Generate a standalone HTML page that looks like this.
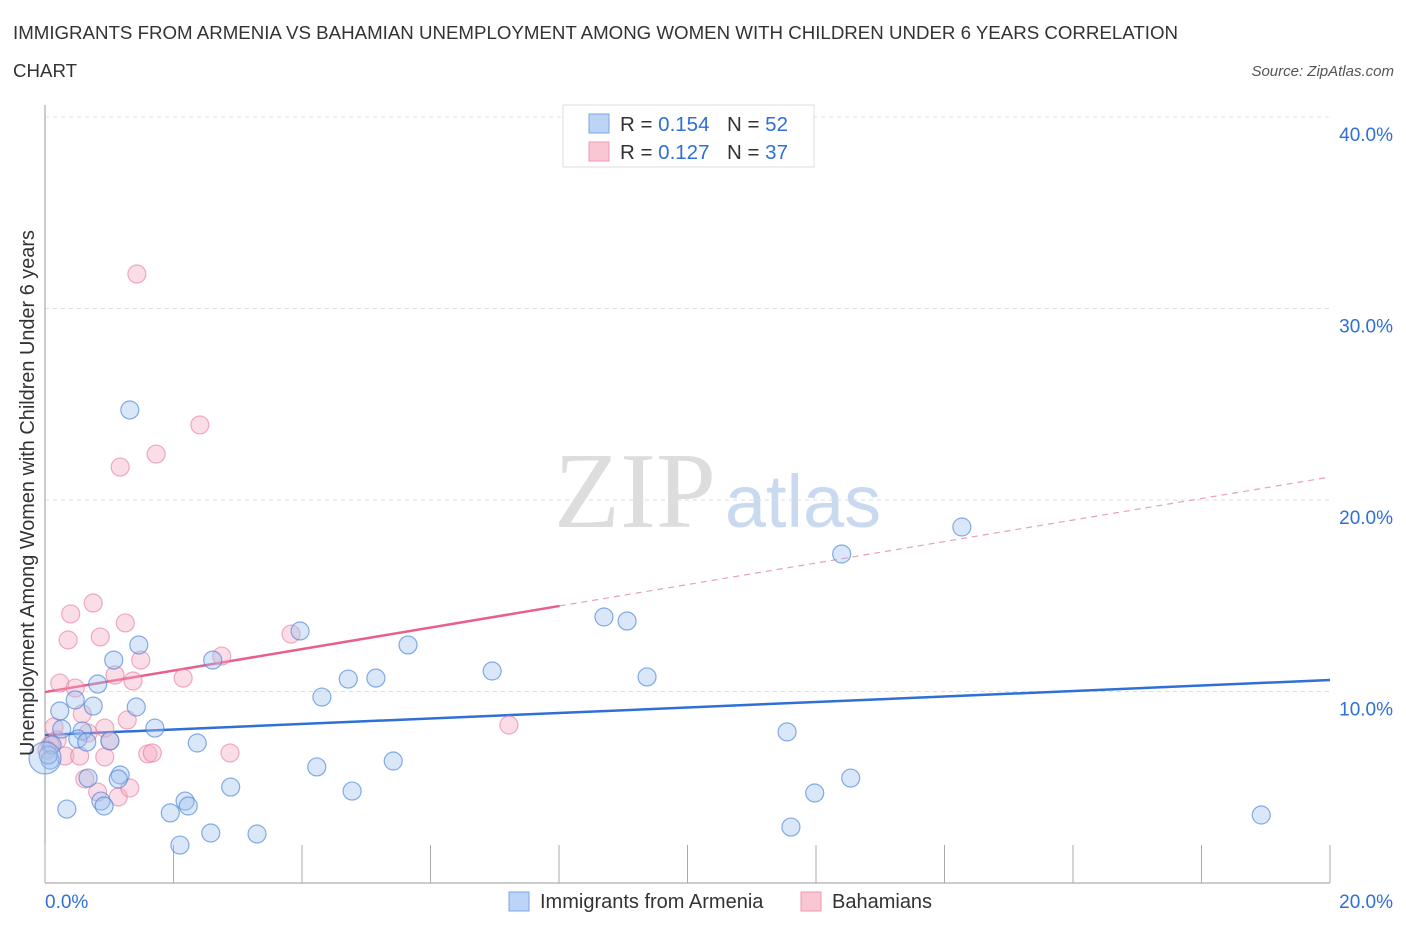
<!DOCTYPE html>
<html><head><meta charset="utf-8"><style>
body{margin:0;background:#fff;font-family:"Liberation Sans",sans-serif;}
</style></head><body>
<svg id="chart" width="1406" height="930" xmlns="http://www.w3.org/2000/svg" font-family="Liberation Sans, sans-serif">
<text x="13" y="39" font-size="18.7" fill="#333">IMMIGRANTS FROM ARMENIA VS BAHAMIAN UNEMPLOYMENT AMONG WOMEN WITH CHILDREN UNDER 6 YEARS CORRELATION</text>
<text x="13" y="77" font-size="18.7" fill="#333">CHART</text>
<text x="1394" y="76" font-size="15" fill="#555" font-style="italic" text-anchor="end">Source: ZipAtlas.com</text>
<g>
<text x="635" y="527" font-size="108" fill="#ddd" style="font-family:'Liberation Serif',serif" text-anchor="middle">ZIP</text>
<text x="803" y="527" font-size="74" fill="#c9daf0" text-anchor="middle">atlas</text>
</g>
<g id="grid"></g>
<g id="axes"></g>
<g id="lines"></g>
<g id="pts"></g>
<text transform="translate(34,493) rotate(-90)" font-size="19.9" fill="#333" text-anchor="middle">Unemployment Among Women with Children Under 6 years</text>
<g>
<rect x="563" y="105" width="251" height="62" fill="#fff" stroke="#ddd"/>
<rect x="589" y="114" width="20" height="19" fill="#bcd4f6" stroke="#7aa6e6"/>
<rect x="589" y="142" width="20" height="19" fill="#f9c6d4" stroke="#ee98b0"/>
<text x="620" y="131" font-size="20.5" fill="#333">R = <tspan fill="#2f6fd6">0.154</tspan><tspan x="727">N = </tspan><tspan fill="#2f6fd6">52</tspan></text>
<text x="620" y="159" font-size="20.5" fill="#333">R = <tspan fill="#2f6fd6"> 0.127</tspan><tspan x="727">N = </tspan><tspan fill="#2f6fd6">37</tspan></text>
</g>
<g>
<rect x="509" y="892" width="20" height="19" fill="#bcd4f6" stroke="#7aa6e6"/>
<text x="540" y="908" font-size="20" fill="#333">Immigrants from Armenia</text>
<rect x="801" y="892" width="20" height="19" fill="#f9c6d4" stroke="#ee98b0"/>
<text x="832" y="908" font-size="20" fill="#333">Bahamians</text>
</g>
</svg>
<script>
const blueX=[1.32,1.46,1.07,0.82,0.75,1.42,0.47,0.23,1.71,0.26,0.58,0.51,0.65,1.01,0.11,0.08,0.05,2.37,2.61,3.97,4.31,4.72,5.15,5.65,6.96,8.70,9.06,9.37,12.40,14.27,11.55,4.23,5.42,4.78,2.89,2.18,2.23,1.95,1.17,1.14,0.67,0.87,0.92,0.34,2.58,3.30,2.10,11.61,11.98,12.54,18.93,0.0];
const blueY=[24.70,12.43,11.64,10.39,9.24,9.19,9.56,8.98,8.09,8.04,7.94,7.52,7.36,7.42,7.21,6.42,6.68,7.31,11.64,13.16,9.71,10.65,10.70,12.43,11.07,13.89,13.68,10.76,17.18,18.59,7.89,6.06,6.37,4.80,5.01,4.28,4.02,3.66,5.64,5.43,5.48,4.28,4.02,3.86,2.61,2.56,1.98,2.92,4.70,5.48,3.55,6.53];
const pinkX=[1.43,2.41,1.73,1.17,0.75,0.40,1.25,0.36,0.86,1.49,2.75,2.15,3.83,0.23,0.47,1.09,1.37,0.58,1.28,0.14,0.93,0.67,1.01,0.19,0.08,0.31,0.93,0.54,1.60,1.67,2.88,7.22,0.62,0.82,1.14,1.32,0.03];
const pinkY=[31.80,23.92,22.40,21.72,14.62,14.05,13.58,12.69,12.85,11.64,11.85,10.70,13.00,10.44,10.18,10.86,10.55,8.83,8.51,8.15,8.09,7.83,7.42,7.47,7.21,6.63,6.58,6.63,6.74,6.79,6.79,8.25,5.43,4.75,4.49,4.96,6.95];
const blueTrend=[7.73,10.60];
const pinkTrend=[9.97,21.2];
const pinkSolidEnd=8.01;
const yTicks=[10,20,30,40];
const yTickLabels=["10.0%","20.0%","30.0%","40.0%"];
const xTicks=[0,2,4,6,8,10,12,14,16,18,20];
const NS="http://www.w3.org/2000/svg";
const sx=v=>45+v*64.25, sy=v=>883-v*19.15;
function mk(tag,attrs,parent){const e=document.createElementNS(NS,tag);for(const k in attrs)e.setAttribute(k,attrs[k]);document.getElementById(parent).appendChild(e);return e;}
yTicks.forEach((t,i)=>{
 const g=mk('line',{x1:45,x2:1330,y1:sy(t),y2:sy(t),stroke:'#ddd','stroke-dasharray':'4,4'},'grid');
 
 
 const l=mk('text',{x:1393,y:sy(t)+24,'font-size':19,fill:'#2f6fd6','text-anchor':'end'},'grid');
 l.textContent=yTickLabels[i];
 
 
});
const topGrid=mk('line',{x1:45,x2:1330,y1:117,y2:117,stroke:'#e6e6e6','stroke-dasharray':'4,4'},'grid');


const ya=mk('line',{x1:45,x2:45,y1:105,y2:883,stroke:'#999'},'axes');


const xa=mk('line',{x1:45,x2:1330,y1:883,y2:883,stroke:'#999'},'axes');


xTicks.forEach(t=>{const k=mk('line',{x1:sx(t),x2:sx(t),y1:845,y2:883,stroke:'#aaa'},'axes');
 
 });
const xl0=mk('text',{x:45,y:908,'font-size':19,fill:'#2f6fd6'},'axes');xl0.textContent='0.0%';


const xl1=mk('text',{x:1393,y:908,'font-size':19,fill:'#2f6fd6','text-anchor':'end'},'axes');xl1.textContent='20.0%';


const pv=x=>pinkTrend[0]+(pinkTrend[1]-pinkTrend[0])*x/20;
const bl=mk('line',{x1:sx(0),y1:sy(blueTrend[0]),x2:sx(20),y2:sy(blueTrend[1]),stroke:'#2f6fd6','stroke-width':2.5},'lines');


const ps=mk('line',{x1:sx(0),y1:sy(pv(0)),x2:sx(pinkSolidEnd),y2:sy(pv(pinkSolidEnd)),stroke:'#e8608a','stroke-width':2.5},'lines');


const pd=mk('line',{x1:sx(pinkSolidEnd),y1:sy(pv(pinkSolidEnd)),x2:sx(20),y2:sy(pv(20)),stroke:'#e8a0b6','stroke-width':1.2,'stroke-dasharray':'6,5'},'lines');


pinkX.forEach((x,i)=>{const c=mk('circle',{cx:sx(x),cy:sy(pinkY[i]),r:9,fill:'rgba(246,170,194,0.4)',stroke:'rgba(232,120,155,0.6)','stroke-width':1.2},'pts');
 
 });
blueX.forEach((x,i)=>{const c=mk('circle',{cx:sx(x),cy:sy(blueY[i]),r:i===blueX.length-1?16:9,fill:'rgba(160,196,240,0.4)',stroke:'rgba(70,130,215,0.65)','stroke-width':1.2},'pts');
 
 });
</script>
</body></html>
